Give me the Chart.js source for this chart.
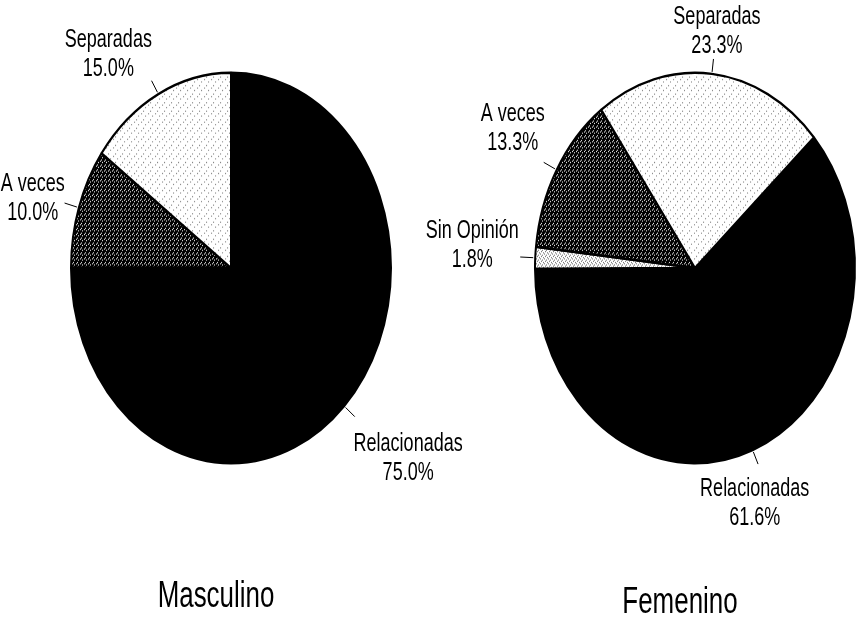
<!DOCTYPE html>
<html lang="es">
<head>
<meta charset="UTF-8">
<title>Masculino / Femenino</title>
<script src="https://cdn.jsdelivr.net/npm/chart.js"></script>
<style>
  body { margin: 0; background: #fff; }
  #wrap { position: relative; width: 859px; height: 619px; }
  canvas { position: absolute; top: 0; left: 0; }
</style>
</head>
<body>
<div id="wrap">
  <canvas id="masc" width="859" height="619"></canvas>
  <canvas id="fem" width="859" height="619"></canvas>
</div>
<script>
// data
const mascLabels = ['Relacionadas', 'A veces', 'Separadas'];
const mascValues = [75.0, 10.0, 15.0];
const femLabels = ['Relacionadas', 'Sin Opinión', 'A veces', 'Separadas'];
const femValues = [61.6, 1.8, 13.3, 23.3];
const groupTitles = ['Masculino', 'Femenino'];

const SQUASH = 0.72;     // text in the scan is very condensed
const STRETCH_Y = 1.22;  // pies are upright ellipses
const FONT = '"Liberation Sans", Arial, sans-serif';

function makePattern(size, bg, fg, dots) {
  const c = document.createElement('canvas');
  c.width = c.height = size;
  const g = c.getContext('2d');
  g.fillStyle = bg;
  g.fillRect(0, 0, size, size);
  g.fillStyle = fg;
  dots.forEach(([x, y]) => g.fillRect(x, y, 1, 1));
  return g.createPattern(c, 'repeat');
}

const fills = {
  'Relacionadas': '#000',
  'A veces': makePattern(4, '#000', '#ddd', [[0, 0], [2, 1], [1, 3]]),
  'Separadas': makePattern(7, '#fff', '#888', [[1, 1], [5, 3], [3, 6]]),
  'Sin Opinión': makePattern(4, '#fff', '#777', [[0, 0], [2, 1], [1, 2], [3, 3]])
};

function drawText(ctx, text, x, y, size) {
  ctx.save();
  ctx.translate(x, y);
  ctx.scale(SQUASH, 1);
  ctx.font = size + 'px ' + FONT;
  ctx.textAlign = 'center';
  ctx.textBaseline = 'alphabetic';
  ctx.fillText(text, 0, 0);
  ctx.restore();
}

const pieText = {
  id: 'pieText',
  beforeDatasetsDraw(chart) {
    const a = chart.getDatasetMeta(0).data[0];
    const ctx = chart.ctx;
    ctx.save();
    ctx.translate(a.x, a.y);
    ctx.scale(1, STRETCH_Y);
    ctx.translate(-a.x, -a.y);
  },
  afterDatasetsDraw(chart) {
    chart.ctx.restore();
  },
  afterDraw(chart, args, opts) {
    const ctx = chart.ctx;
    const arcs = chart.getDatasetMeta(0).data;
    const values = chart.data.datasets[0].data;
    ctx.save();
    ctx.fillStyle = '#000';
    ctx.strokeStyle = '#000';
    ctx.lineWidth = 1;
    arcs.forEach((arc, i) => {
      const mid = (arc.startAngle + arc.endAngle) / 2;
      const dx = Math.cos(mid), dy = Math.sin(mid);
      const ex = arc.x + dx * arc.outerRadius;
      const ey = arc.y + dy * arc.outerRadius * STRETCH_Y;
      ctx.beginPath();
      ctx.moveTo(ex + dx * 2, ey + dy * 2);
      ctx.lineTo(ex + dx * 15, ey + dy * 15);
      ctx.stroke();
      const n = opts.nudge[i];
      const cx = ex + n[0], cy = ey + n[1];
      drawText(ctx, chart.data.labels[i], cx, cy - 5.5, 25);
      drawText(ctx, values[i].toFixed(1) + '%', cx, cy + 23.5, 25);
    });
    const a = arcs[0];
    drawText(ctx, opts.title, a.x - 15, a.y + opts.titleDy, 36);
    ctx.restore();
  }
};

function makePie(id, labels, values, rotation, padding, title, titleDy, nudge) {
  new Chart(document.getElementById(id), {
    type: 'pie',
    data: {
      labels: labels,
      datasets: [{
        data: values,
        backgroundColor: labels.map(l => fills[l]),
        borderColor: '#000',
        borderWidth: 2,
        hoverOffset: 0,
        clip: false
      }]
    },
    options: {
      responsive: false,
      animation: false,
      events: [],
      rotation: rotation,
      layout: { padding: padding },
      plugins: {
        legend: { display: false },
        tooltip: { enabled: false },
        pieText: { title: title, titleDy: titleDy, nudge: nudge }
      }
    },
    plugins: [pieText]
  });
}

makePie('masc', mascLabels, mascValues, 0,
  { left: 70, right: 467, top: 68, bottom: 151 },
  groupTitles[0], 339,
  [[64, 50], [-46, -11], [-50, -42]]);

makePie('fem', femLabels, femValues, 48,
  { left: 534, right: 3, top: 68, bottom: 151 },
  groupTitles[1], 345,
  [[2, 51], [-63, -14], [-44, -43], [5, -44]]);
</script>
</body>
</html>
